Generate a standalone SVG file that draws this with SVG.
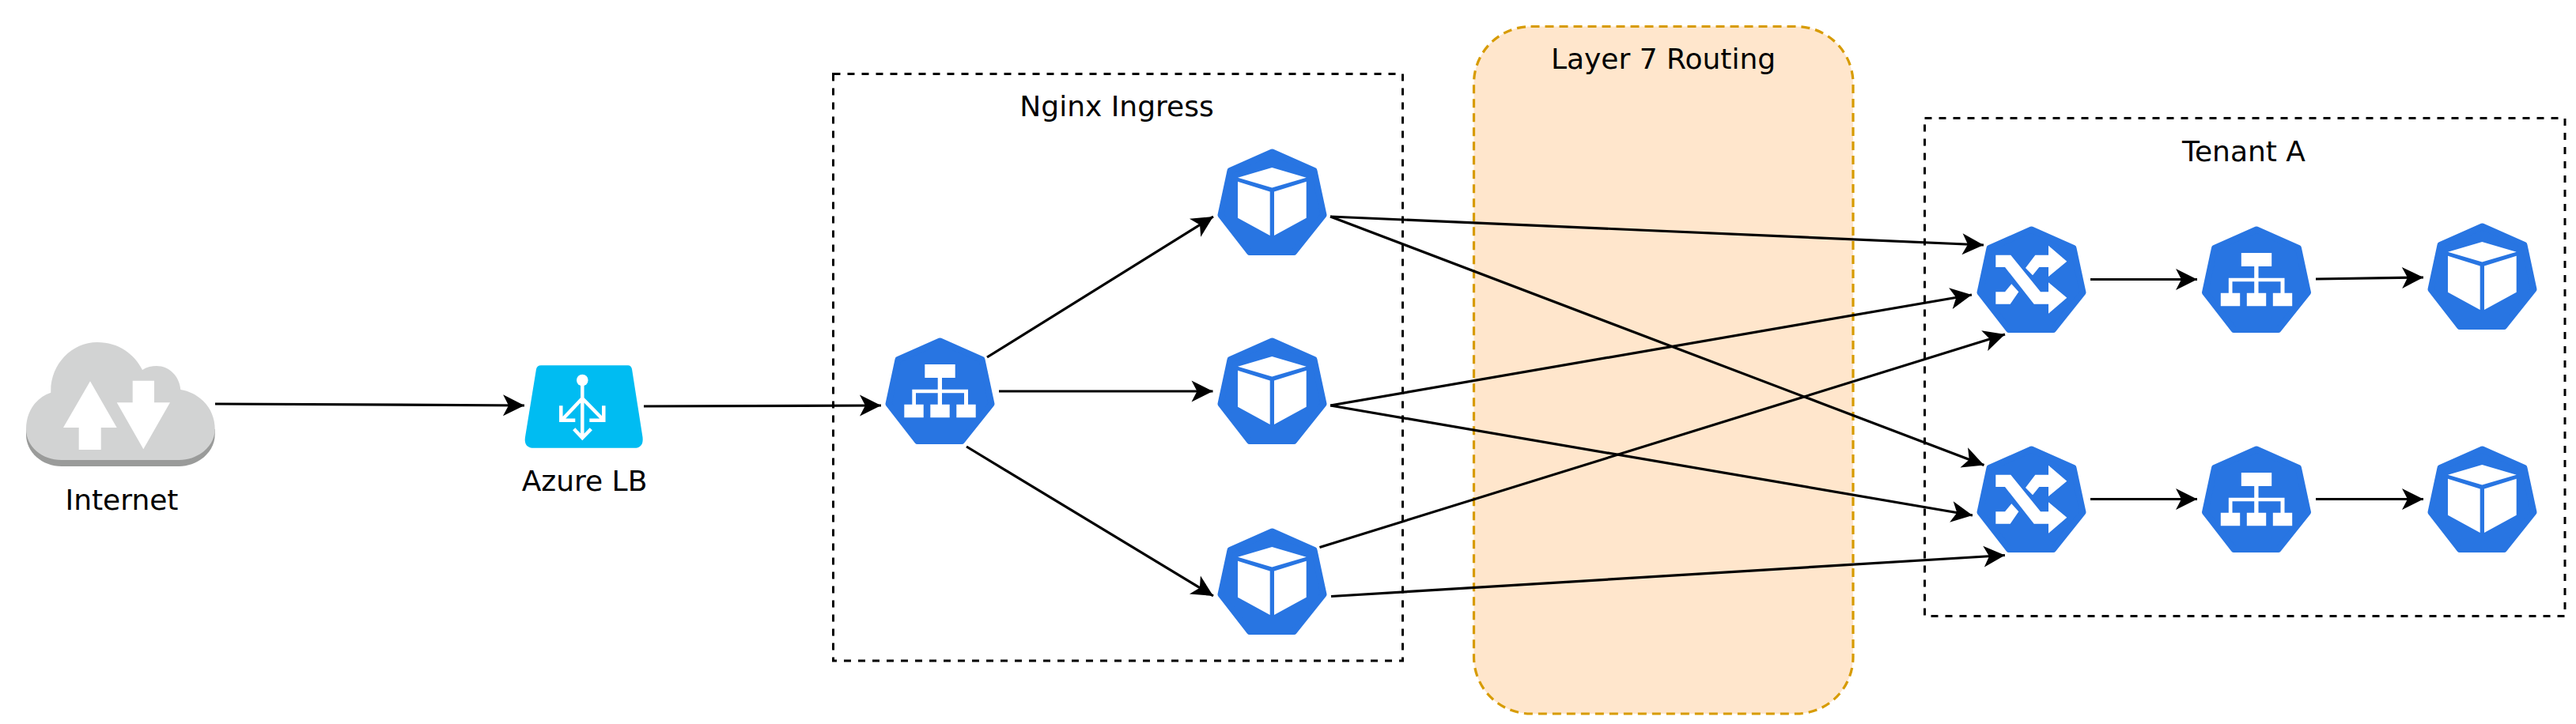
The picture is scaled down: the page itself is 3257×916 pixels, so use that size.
<svg xmlns="http://www.w3.org/2000/svg" width="3257" height="916" viewBox="0 0 3257 916">
<style>
text{font-family:"DejaVu Sans",sans-serif;font-size:36px;fill:#000;text-anchor:middle}
.box{fill:none;stroke:#000;stroke-width:3;stroke-dasharray:9 9}
.w{fill:#fff}
.hep{fill:#2875e2;stroke:#2875e2;stroke-width:8;stroke-linejoin:round}
#connectors line{stroke:#000;stroke-width:3.2;fill:none;marker-end:url(#arr)}
</style>
<defs>
<marker id="arr" markerUnits="userSpaceOnUse" markerWidth="30" markerHeight="30" refX="28" refY="15" orient="auto"><path d="M28 15L1 1.500L8 15L1 28.500Z" fill="#000"/></marker>
<polygon id="hept" class="hep" points="69.5,4.5 122.5,28 134.5,84 97,131 41,131 4.5,84 16.5,28"/>
<g id="svc-g"><use href="#hept"/><path class="w" d="M50.3 34H88.7V51H72V65.700H105V84.700H114.700V101.300H90.300V84.700H100V70.300H72V84.700H81.700V101.300H57.300V84.700H66.700V70.300H39V84.700H48.700V101.300H24.300V84.700H34.300V65.700H66.700V51H50.300Z"/></g>
<g id="pod-g"><use href="#hept"/><path class="w" d="M69.300 24L112.700 36.700L69.300 49.400L26 36.700ZM26 41.700L66.700 54.400V110L26 87.700ZM72 54.400L112.700 41.700V87.700L72 110Z"/></g>
<g id="ing-g"><use href="#hept"/><path class="w" d="M24.300 36.700H43.300L81 83.300H91V71.300L114.300 90.700L91 110.700V98.700H72.700L36 52H24.300ZM91 24.700L114.300 44.700L91 64V52H79.300L71 62.300L62 53L74.300 36.700H91ZM24.300 83.300H36L44.300 73.300L53.300 83.300L42.700 98.700H24.300Z"/></g>
</defs>
<g id="layer7-routing"><rect x="1863.500" y="33.500" width="479.500" height="869.500" rx="72" ry="72" fill="#ffe6cc" stroke="#d79b00" stroke-width="3.200" stroke-dasharray="11 7"/><text x="2103" y="87">Layer 7 Routing</text></g>
<g id="nginx-ingress"><rect class="box" x="1053.500" y="93.500" width="720" height="742.500"/><text x="1412" y="147">Nginx Ingress</text></g>
<g id="tenant-a"><rect class="box" x="2433.500" y="149.500" width="809.500" height="630"/><text x="2837" y="204">Tenant A</text></g>
<g id="connectors">
<line x1="272" y1="511" x2="663" y2="513"/>
<line x1="814" y1="514" x2="1114" y2="513"/>
<line x1="1248" y1="452" x2="1534" y2="274"/>
<line x1="1263" y1="495" x2="1533.500" y2="495"/>
<line x1="1222" y1="565" x2="1534" y2="754"/>
<line x1="1682" y1="274" x2="2508" y2="310"/>
<line x1="1682" y1="274" x2="2508.500" y2="588.500"/>
<line x1="1682" y1="513" x2="2493" y2="373"/>
<line x1="1682" y1="513" x2="2494" y2="652"/>
<line x1="1668.500" y1="692.500" x2="2535" y2="423"/>
<line x1="1683" y1="754.500" x2="2535" y2="702.500"/>
<line x1="2643" y1="353.500" x2="2778" y2="353.500"/>
<line x1="2928" y1="353" x2="3064" y2="351"/>
<line x1="2643" y1="631.500" x2="2778" y2="631.500"/>
<line x1="2928" y1="631.500" x2="3064" y2="631.500"/>
</g>
<g id="internet">
<path d="M33 543V550C33 572 53 590 78 590H226.700C250 590 271.700 572 271.700 550V543Z" fill="#9a9b9a"/>
<path d="M33 543C33 520 46 503 64.300 496.700C63 462 90 433 123 433C150 433 170 448 180 468C186 464 192 463 198 463C214 463 227 476 228.300 493C253 497 271.700 517 271.700 543C271.700 565 250 582 226.700 582H78C53 582 33 565 33 543Z" fill="#d2d3d3"/>
<path class="w" d="M114 482.300L147.700 541H127.700V569H99.700V541H80ZM167.700 481.700H195V509.300H215L181.300 568.300L147.700 509.300H167.700Z"/>
<text x="154" y="645">Internet</text>
</g>
<g id="azure-lb">
<path d="M684 462.300H794Q798 462.300 799 467L812.500 553Q814 566.700 802 566.700H675Q662 566.700 664 553L678 467Q679 462.300 684 462.300Z" fill="#00bcf2"/>
<circle cx="736.300" cy="481" r="7.300" fill="#fff"/>
<path d="M736.300 481V554M736.300 504L711.700 530M736.300 504L761.700 530M709.300 513.300V531.700H727.300M763.300 513.300V531.700H745.300M725.700 542.700L736.300 554L747.300 542.700" fill="none" stroke="#fff" stroke-width="4.500"/>
<text x="739" y="621">Azure LB</text>
</g>
<g id="ingress-service"><use href="#svc-g" x="1119" y="427"/></g>
<g id="ingress-pod-1"><use href="#pod-g" x="1539" y="188"/></g>
<g id="ingress-pod-2"><use href="#pod-g" x="1539" y="427"/></g>
<g id="ingress-pod-3"><use href="#pod-g" x="1539" y="668"/></g>
<g id="tenant-ingress-1"><use href="#ing-g" x="2499" y="286"/></g>
<g id="tenant-ingress-2"><use href="#ing-g" x="2499" y="564"/></g>
<g id="tenant-service-1"><use href="#svc-g" x="2783.500" y="286"/></g>
<g id="tenant-service-2"><use href="#svc-g" x="2783.500" y="564"/></g>
<g id="tenant-pod-1"><use href="#pod-g" x="3069" y="282"/></g>
<g id="tenant-pod-2"><use href="#pod-g" x="3069" y="564"/></g>
</svg>
